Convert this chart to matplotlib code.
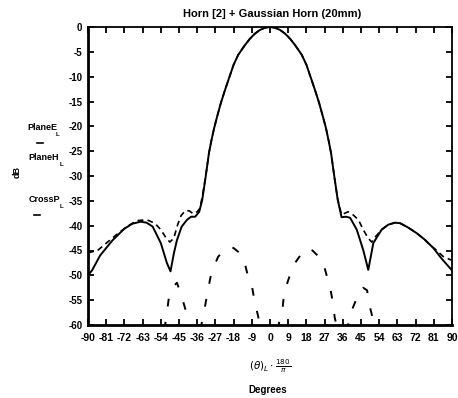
import numpy as np
import matplotlib
matplotlib.use("Agg")
import matplotlib.pyplot as plt

plt.rcParams['font.family'] = ['Liberation Sans', 'DejaVu Sans']
plt.rcParams['axes.unicode_minus'] = False

# PlaneE (solid)
e_deg = [-90, -88, -84, -78, -72, -68, -64, -61, -58, -54, -51, -49.2, -47.5, -46, -43.7,
         -41, -39, -37, -35, -33.5, -31.8, -30.2, -29, -27.7, -26, -24.3, -22.5, -20.6, -18, -15.7,
         -12.5, -10, -7.5, -5, -2.5, 0, 2.5, 5, 7.5, 10, 12.5, 15.7, 18, 20.6, 22.5, 24.3, 26, 27.7,
         29, 30.2, 31.8, 33.5, 35.4, 37.5, 39.6, 42.9,
         46.1, 48.6, 51.1, 55.2, 58.5, 61.8, 64.3, 68, 72.5, 76.5, 80.8, 85, 90]
e_db = [-50, -49, -46, -43, -40.6, -39.6, -39.2, -39.4, -40.2, -43.5, -47.5, -49.2, -45.5, -42.9, -40.2,
        -38.8, -38.2, -38.2, -37.2, -34.8, -30.1, -25.4, -22.9, -20.5, -17.8, -15.3, -13, -10.7, -7.6, -5.6,
        -3.7, -2.4, -1.35, -0.6, -0.15, 0, -0.15, -0.6, -1.35, -2.4, -3.7, -5.6, -7.6, -10.7, -13, -15.3, -17.8, -20.4,
        -22.9, -25.4, -30.1, -34.8, -38.3, -38.2, -38.4, -40.8,
        -44.9, -48.9, -43.5, -40.8, -39.8, -39.4, -39.5, -40.3, -41.5, -42.8, -44.5, -46.7, -49]

# PlaneH (short dash)
h_deg = [-90, -85, -80, -75, -70, -66, -61, -57, -54, -51.5, -49.5, -47.5, -46, -44, -42, -40,
         -38, -36, -34.6, -33, -31.8, -30.2, -29, -27.7, -26, -24.3, -22.5, -20.6, -18, -15.7,
         -12.5, -10, -7.5, -5, -2.5, 0, 2.5, 5, 7.5, 10, 12.5, 15.7, 18, 20.6, 22.5, 24.3, 26, 27.7,
         29, 30.2, 31.8, 33.5, 35.4, 37, 38.6, 41, 43.7, 46.1, 48.5, 50.3, 52,
         55.2, 58.5, 61.8, 64.3, 68, 72.5, 76, 79.1, 82.5, 85.6, 90]
h_db = [-45.5, -44.9, -43.2, -41.5, -40, -39, -38.8, -39.5, -40.8, -42.4, -43.3, -42.5, -40.2, -38, -37, -37,
        -37.6, -37.2, -36.5, -33, -30.1, -25.4, -22.9, -20.5, -17.8, -15.3, -13, -10.7, -7.6, -5.6,
        -3.7, -2.4, -1.35, -0.6, -0.15, 0, -0.15, -0.6, -1.35, -2.4, -3.7, -5.6, -7.6, -10.7, -13, -15.3, -17.8, -20.4,
        -22.9, -25.4, -30.1, -34.8, -37.8, -37.5, -37.2, -37.8, -38.8, -40.8, -42.5, -43.3, -42.3,
        -40.8, -39.8, -39.4, -39.5, -40.3, -41.5, -42.6, -43.9, -45, -46.2, -47]

# CrossP (long dash)
c_deg = [-58, -53, -51.5, -50, -48, -46, -43.5, -41.5, -39, -37, -35, -33, -31, -29.5, -28,
         -25.7, -23, -20, -18, -15, -13, -11, -9, -7.5, -6, -4, -2, 0, 2, 4.5, 6, 7, 9, 11.5,
         15, 18.5, 21, 26, 28, 30, 31.3, 32, 34, 36, 38, 39.5, 41, 44.5, 46, 48, 49.5, 51, 53, 58]
c_db = [-70, -63, -59, -54.5, -52.3, -51.5, -54.5, -57.3, -62, -65, -62, -58.2, -53.7, -50.5, -48.5,
        -46.3, -45, -44.3, -44.5, -45.5, -46.7, -50, -52, -55.5, -58, -62, -68, -75, -66, -59.5, -57.5, -53.5, -51, -48,
        -46, -44.5, -45, -47, -50, -53, -56, -58.5, -62, -64, -61, -58.5, -56.5, -53, -52.5, -53, -56.5, -59, -63, -70]

x_ticks = np.arange(-90, 91, 9)
y_ticks = np.arange(-60, 1, 5)

fig = plt.figure(figsize=(4.58, 3.98), dpi=100)
W, H = 458.0, 398.0
ax = fig.add_axes([88 / W, 1 - 325 / H, 364 / W, 298 / H])

ax.plot(e_deg, e_db, color='k', lw=1.4, solid_joinstyle='round')
ax.plot(h_deg, h_db, color='k', lw=1.2, dashes=(3.5, 2.5))
ax.plot(c_deg, c_db, color='k', lw=1.4, dashes=(4, 8))

ax.set_xlim(-90, 90)
ax.set_ylim(-60, 0)
ax.set_xticks(x_ticks)
ax.set_yticks(y_ticks)
ax.set_xticklabels([str(v) for v in x_ticks], fontsize=7.5, fontweight='bold')
ax.set_yticklabels([str(v) for v in y_ticks], fontsize=7, fontweight='bold')
ax.tick_params(direction='in', length=4, width=1.3, top=True, right=True, pad=4)
ax.tick_params(axis='x', pad=6)

for side in ['left', 'bottom']:
    ax.spines[side].set_linewidth(2.0)
for side in ['top', 'right']:
    ax.spines[side].set_linewidth(1.3)

fig.text(272 / W, 1 - 14 / H, "Horn [2] + Gaussian Horn (20mm)", ha='center', va='center',
         fontsize=8, fontweight='bold')

# legend labels, Mathcad style
fig.text(42 / W, 1 - 127 / H, "PlaneE", ha='center', va='center', fontsize=6.5, fontweight='bold')
fig.text(58 / W, 1 - 134 / H, "L", ha='center', va='center', fontsize=4.5, fontweight='bold')
fig.add_artist(plt.Line2D([37 / W, 43 / W], [1 - 143 / H, 1 - 143 / H], color='k', lw=1.2))
fig.text(44 / W, 1 - 157 / H, "PlaneH", ha='center', va='center', fontsize=6.5, fontweight='bold')
fig.text(61 / W, 1 - 164 / H, "L", ha='center', va='center', fontsize=4.5, fontweight='bold')
fig.text(17 / W, 1 - 172 / H, "dB", ha='center', va='center', fontsize=6.5, fontweight='bold',
         rotation=90)
fig.text(44 / W, 1 - 199 / H, "CrossP", ha='center', va='center', fontsize=6.5, fontweight='bold')
fig.text(61 / W, 1 - 206 / H, "L", ha='center', va='center', fontsize=4.5, fontweight='bold')
fig.add_artist(plt.Line2D([34 / W, 40 / W], [1 - 215 / H, 1 - 215 / H], color='k', lw=1.2))

fig.text(270 / W, 1 - 366 / H, r"$(\theta)_L\cdot\frac{180}{\pi}$", ha='center', va='center',
         fontsize=7.5)
fig.text(268 / W, 1 - 390 / H, "Degrees", ha='center', va='center', fontsize=7, fontweight='bold')

fig.savefig("out.png", dpi=100)
